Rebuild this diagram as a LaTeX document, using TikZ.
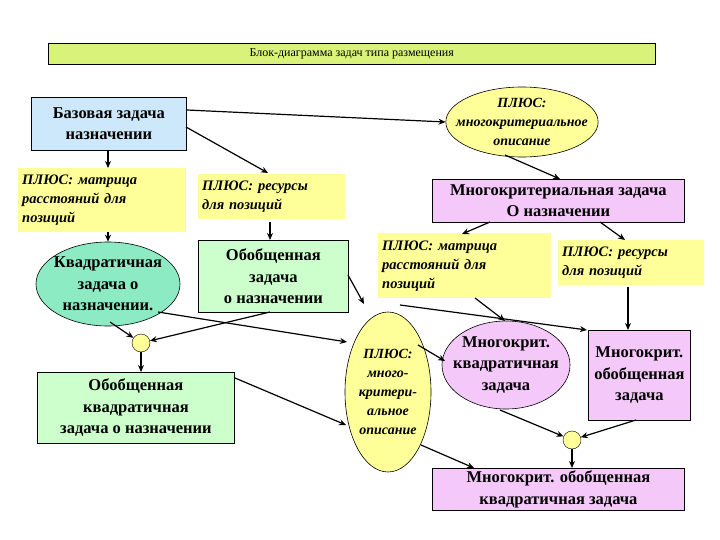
\documentclass[tikz,border=0pt]{standalone}
\usepackage{fontspec}
\setmainfont{Liberation Serif}
\usetikzlibrary{shapes.geometric,arrows.meta}
\definecolor{ttl}{HTML}{D8F27A}
\definecolor{lblue}{HTML}{CCE8FA}
\definecolor{yel}{HTML}{FFFF99}
\definecolor{lgreen}{HTML}{CCFFCC}
\definecolor{teal}{HTML}{8CEBC3}
\definecolor{pink}{HTML}{F5C8FA}
\tikzset{
  big/.style={font=\fontsize{16.5}{21.5}\selectfont\bfseries, align=center, inner sep=0pt},
  bx/.style={big, draw=black, line width=0.8pt, anchor=north west},
  plus/.style={fill=yel, anchor=north west, inner xsep=4pt, inner ysep=3pt, align=left, font=\fontsize{14.5}{19}\selectfont\bfseries\itshape},
  ell/.style={big, ellipse, draw=black, line width=0.6pt, inner sep=-12pt},
  dot/.style={circle, draw=black, fill=yel, minimum size=18pt, inner sep=0pt},
  arr/.style={-{Stealth[length=7pt,width=6pt]}, line width=1.2pt},
}
\begin{document}
\begin{tikzpicture}[x=1pt,y=-1pt]
\useasboundingbox (0,0) rectangle (720,540);
\node[draw=black, fill=ttl, minimum width=607pt, minimum height=21pt, anchor=north west, font=\fontsize{12}{14}\selectfont, inner sep=0pt] (title) at (48,43) {Блок-диаграмма задач типа размещения};
\node[bx, fill=lblue, minimum width=155pt, minimum height=53pt] (base) at (31,97) {Базовая задача\\назначении};
\node[ell, fill=yel, minimum width=150pt, minimum height=70pt, font=\fontsize{14}{19}\selectfont\bfseries\itshape] (pe) at (522,122) {ПЛЮС:\\многокритериальное\\описание};
\node[plus, text width=160pt, minimum height=64pt] (p1) at (18,168) {ПЛЮС: матрица\\расстояний для\\позиций};
\node[plus, text width=139pt, minimum height=45pt] (p2) at (198,174) {ПЛЮС: ресурсы\\для позиций};
\node[bx, fill=pink, minimum width=252pt, minimum height=43pt] (mk) at (432,179) {Многокритериальная задача\\О назначении};
\node[ell, fill=teal, minimum width=144pt, minimum height=84pt] (quad) at (108,284) {Квадратичная\\задача о\\назначении.};
\node[bx, fill=lgreen, minimum width=150pt, minimum height=72pt] (gen) at (198,240) {Обобщенная\\задача\\о назначении};
\node[plus, text width=165pt, minimum height=65pt] (p3) at (378,233) {ПЛЮС: матрица\\расстояний для\\позиций};
\node[plus, text width=138pt, minimum height=45pt] (p4) at (558,240) {ПЛЮС: ресурсы\\для позиций};
\node[dot] (d1) at (141,343) {};
\node[dot] (d2) at (572,440) {};
\node[bx, fill=lgreen, minimum width=197pt, minimum height=71pt] (gq) at (37,372) {Обобщенная\\квадратичная\\задача о назначении};
\node[ell, fill=yel, minimum width=86pt, minimum height=160pt, font=\fontsize{14}{19}\selectfont\bfseries\itshape] (ve) at (388,392) {ПЛЮС:\\много-\\критери-\\альное\\описание};
\node[ell, fill=pink, minimum width=128pt, minimum height=88pt] (mq) at (506,365) {Многокрит.\\квадратичная\\задача};
\node[bx, fill=pink, minimum width=102pt, minimum height=90pt] (mg) at (588,330) {Многокрит.\\обобщенная\\задача};
\node[bx, fill=pink, minimum width=252pt, minimum height=42pt] (fin) at (432,468) {Многокрит. обобщенная\\квадратичная задача};
\draw[arr] (base.east |- 0,110) -- (pe.west);
\draw[arr] (186,127) -- (268,173);
\draw[arr] (108,150) -- (108,168);
\draw[arr] (108,232) -- (quad.north);
\draw[arr] (270,222) -- (gen.north -| 270,0);
\draw[arr] (505,155) -- (560,179);
\draw[arr] (490,222) -- (462,234);
\draw[arr] (600,222) -- (625,240);
\draw[arr] (475,298) -- (505,321);
\draw[arr] (628,287) -- (628,330);
\draw[arr] (110,322) -- (d1);
\draw[arr] (270,312) -- (d1);
\draw[arr] (158,312) -- (347,342);
\draw[arr] (348,275) -- (364,304);
\draw[arr] (d1) -- (gq.north -| d1);
\draw[arr] (235,378) -- (346,425);
\draw[arr] (418,345) -- (445,361);
\draw[arr] (400,305) -- (587,330);
\draw[arr] (500,410) -- (d2);
\draw[arr] (636,420) -- (d2);
\draw[arr] (d2) -- (fin.north -| d2);
\draw[arr] (421,445) -- (474,468);
\end{tikzpicture}
\end{document}
